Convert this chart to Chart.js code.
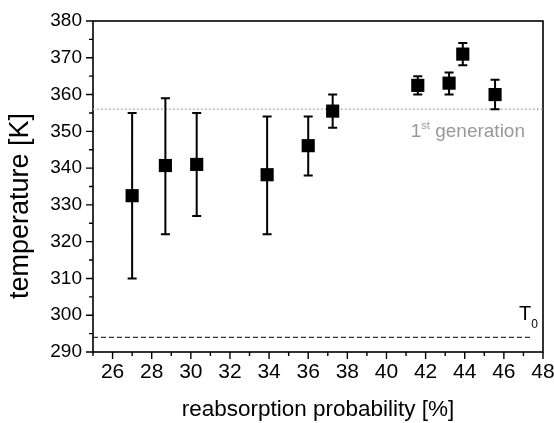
<!DOCTYPE html>
<html>
<head>
<meta charset="utf-8">
<script src="https://cdn.jsdelivr.net/npm/chart.js@4/dist/chart.umd.min.js"></script>
<style>
  html, body { margin: 0; padding: 0; background: #fff; }
  #myChart { display: block; }
</style>
</head>
<body>
<canvas id="myChart" width="554" height="423"></canvas>
<script>
// data
const reabsorption = [27.0, 28.7, 30.3, 33.9, 36.0, 37.25, 41.6, 43.2, 43.9, 45.55];
const temperature = [332.5, 340.7, 341.0, 338.2, 346.1, 355.5, 362.5, 363.1, 371.0, 360.0];
const tempUpper = [355, 359, 355, 354, 354, 360, 365, 366, 374, 364];
const tempLower = [310, 322, 327, 322, 338, 351, 360, 360, 368, 356];
const xTickLabels = [26, 28, 30, 32, 34, 36, 38, 40, 42, 44, 46, 48];
const yTickLabels = [290, 300, 310, 320, 330, 340, 350, 360, 370, 380];
const firstGeneration = 356;
const roomTemp = 294;
const roomTempEnd = 47.45;

const fontFamily = '"Liberation Sans", Arial, Helvetica, sans-serif';

// frame, minor ticks, reference lines, error bars
const decorations = {
  id: "decorations",
  beforeDatasetsDraw(chart) {
    const { ctx, chartArea: a, scales: { x, y } } = chart;
    ctx.save();
    ctx.strokeStyle = "#000";
    ctx.lineWidth = 1.6;
    ctx.strokeRect(a.left, a.top, a.right - a.left, a.bottom - a.top);

    // tick marks (outward)
    ctx.lineWidth = 1.4;
    ctx.beginPath();
    for (let v = 25; v <= 48; v++) {
      const px = x.getPixelForValue(v);
      const len = v % 2 === 0 ? 7 : 4;
      ctx.moveTo(px, a.bottom);
      ctx.lineTo(px, a.bottom + len);
    }
    for (let v = 290; v <= 380; v += 5) {
      const py = y.getPixelForValue(v);
      const len = v % 10 === 0 ? 7 : 4;
      ctx.moveTo(a.left, py);
      ctx.lineTo(a.left - len, py);
    }
    ctx.stroke();

    // 1st generation line
    ctx.strokeStyle = "#a8a8a8";
    ctx.lineWidth = 1.5;
    ctx.setLineDash([1.5, 2.5]);
    ctx.beginPath();
    const yg = y.getPixelForValue(firstGeneration);
    ctx.moveTo(a.left, yg);
    ctx.lineTo(a.right, yg);
    ctx.stroke();

    // T0 line
    ctx.strokeStyle = "#000";
    ctx.lineWidth = 1;
    ctx.setLineDash([5, 3]);
    ctx.beginPath();
    const y0 = y.getPixelForValue(roomTemp);
    ctx.moveTo(a.left, y0);
    ctx.lineTo(x.getPixelForValue(roomTempEnd), y0);
    ctx.stroke();
    ctx.setLineDash([]);

    // error bars
    ctx.lineWidth = 2;
    ctx.beginPath();
    reabsorption.forEach((xv, i) => {
      const px = x.getPixelForValue(xv);
      const top = y.getPixelForValue(tempUpper[i]);
      const bot = y.getPixelForValue(tempLower[i]);
      ctx.moveTo(px, top);
      ctx.lineTo(px, bot);
      ctx.moveTo(px - 4.5, top);
      ctx.lineTo(px + 4.5, top);
      ctx.moveTo(px - 4.5, bot);
      ctx.lineTo(px + 4.5, bot);
    });
    ctx.stroke();
    ctx.restore();
  },
  afterDraw(chart) {
    const { ctx, chartArea: a, scales: { x, y } } = chart;
    ctx.save();
    ctx.textBaseline = "alphabetic";
    ctx.textAlign = "left";

    // 1st generation label
    ctx.fillStyle = "#999";
    const base = y.getPixelForValue(firstGeneration) + 28;
    ctx.font = "19px " + fontFamily;
    const w1 = ctx.measureText("1").width;
    const wGen = ctx.measureText(" generation").width;
    ctx.font = "11px " + fontFamily;
    const wSt = ctx.measureText("st").width;
    let cx = a.right - 18 - (w1 + wSt + wGen);
    ctx.font = "19px " + fontFamily;
    ctx.fillText("1", cx, base);
    cx += w1;
    ctx.font = "11px " + fontFamily;
    ctx.fillText("st", cx, base - 8);
    cx += wSt;
    ctx.font = "19px " + fontFamily;
    ctx.fillText(" generation", cx, base);

    // T0 label
    ctx.fillStyle = "#000";
    const b0 = y.getPixelForValue(roomTemp) - 17;
    ctx.font = "20px " + fontFamily;
    ctx.fillText("T", 519, b0);
    const wT = ctx.measureText("T").width;
    ctx.font = "12px " + fontFamily;
    ctx.fillText("0", 519 + wT, b0 + 8);

    // y axis title
    ctx.font = "27px " + fontFamily;
    ctx.textAlign = "center";
    ctx.textBaseline = "middle";
    ctx.translate(21, 206);
    ctx.rotate(-Math.PI / 2);
    ctx.fillText("temperature [K]", 0, 0);
    ctx.restore();
  },
};

const data = {
  datasets: [
    {
      label: "temperature",
      data: reabsorption.map((xv, i) => ({ x: xv, y: temperature[i] })),
      pointStyle: "rect",
      pointRadius: 9.3,
      pointBackgroundColor: "#000",
      pointBorderColor: "#000",
      pointBorderWidth: 0,
      showLine: false,
    },
  ],
};

const config = {
  type: "scatter",
  data,
  options: {
    responsive: false,
    animation: false,
    devicePixelRatio: 1,
    layout: { padding: { top: 21, right: 11, left: 0, bottom: 0 } },
    plugins: { legend: { display: false }, tooltip: { enabled: false } },
    scales: {
      x: {
        type: "linear",
        min: 25,
        max: 48,
        afterBuildTicks: (scale) => {
          scale.ticks = xTickLabels.map((v) => ({ value: v }));
        },
        afterFit: (scale) => {
          scale.height = 71;
          scale.paddingLeft = 0;
          scale.paddingRight = 0;
        },
        grid: { display: false, drawTicks: false },
        border: { display: false },
        ticks: {
          color: "#000",
          font: { family: fontFamily, size: 21 },
          padding: 8,
          maxRotation: 0,
          autoSkip: false,
        },
        title: {
          display: true,
          text: "reabsorption probability [%]",
          color: "#000",
          font: { family: fontFamily, size: 22.5 },
          padding: { top: 0, bottom: 0 },
        },
      },
      y: {
        type: "linear",
        min: 290,
        max: 380,
        afterBuildTicks: (scale) => {
          scale.ticks = yTickLabels.map((v) => ({ value: v }));
        },
        afterFit: (scale) => {
          scale.width = 93;
          scale.paddingTop = 0;
          scale.paddingBottom = 0;
        },
        grid: { display: false, drawTicks: false },
        border: { display: false },
        ticks: {
          color: "#000",
          font: { family: fontFamily, size: 19 },
          padding: 11,
          autoSkip: false,
        },
      },
    },
  },
  plugins: [decorations],
};

const myChart = new Chart(document.getElementById("myChart"), config);
</script>
</body>
</html>
